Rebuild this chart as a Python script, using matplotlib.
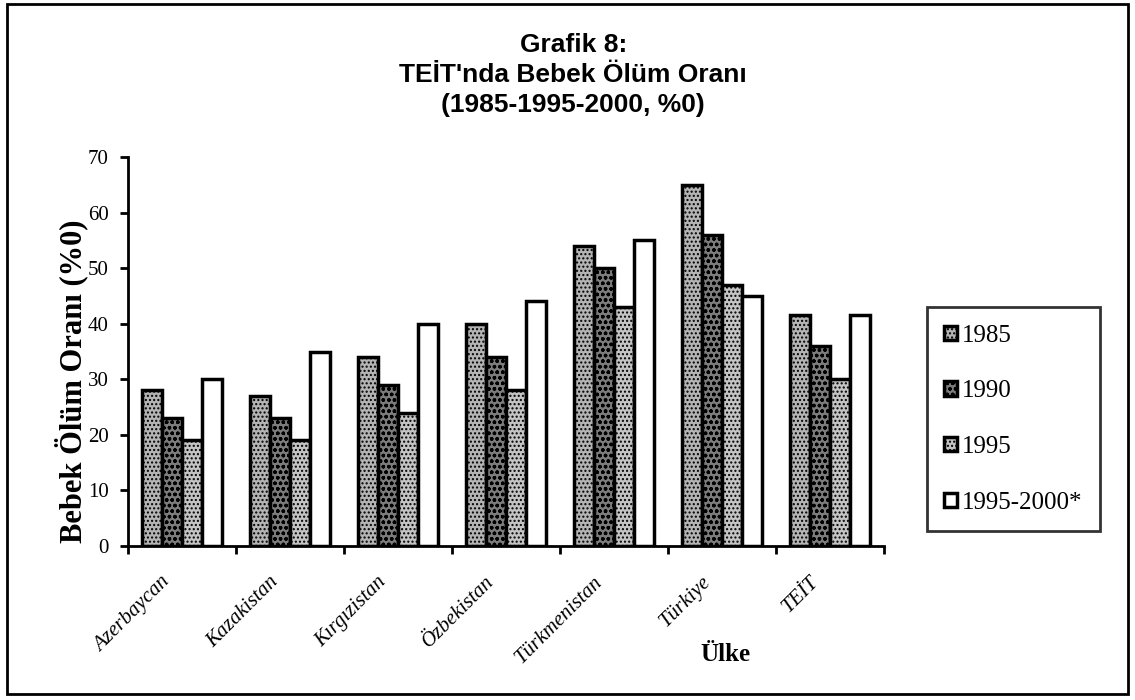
import numpy as np
import matplotlib
matplotlib.use("Agg")
import matplotlib.pyplot as plt
import matplotlib.transforms as mtransforms
from matplotlib.patches import Rectangle

# veriler
ulkeler = ["Azerbaycan", "Kazakistan", "Kırgızistan", "Özbekistan",
           "Türkmenistan", "Türkiye", "TEİT"]
seriler = ["1985", "1990", "1995", "1995-2000*"]
v1985 = [28, 27, 34, 40, 54, 65, 41.5]
v1990 = [23, 23, 29, 34, 50, 56, 36]
v1995 = [19, 19, 24, 28, 43, 47, 30]
v2000 = [30, 35, 40, 44, 55, 45, 41.5]

renkler = ["#b4b4b4", "#7c7c7c", "#c4c4c4", "#ffffff"]
taramalar = ["....", "ooo", "....", None]
plt.rcParams['hatch.color'] = '#555555'

fig = plt.figure(figsize=(11.35, 7), dpi=100)
ax = fig.add_axes([0.1128, 0.22, 0.666, 0.5557])

x = np.arange(len(ulkeler))
w = 0.185
degerler = [v1985, v1990, v1995, v2000]
for i, (ad, vals) in enumerate(zip(seriler, degerler)):
    ax.bar(x + (i - 1.5) * w, vals, width=w, color=renkler[i], edgecolor="black",
           linewidth=2.5, hatch=taramalar[i], label=ad, zorder=2)

ax.set_xlim(-0.5, len(ulkeler) - 0.5)
ax.set_ylim(0, 70)
ax.set_yticks(range(0, 71, 10))
ax.spines["top"].set_visible(False)
ax.spines["right"].set_visible(False)
ax.spines["left"].set_linewidth(2)
ax.spines["bottom"].set_linewidth(2)
ax.tick_params(axis="y", direction="out", length=6, width=2, labelsize=15, pad=8)
for t in ax.get_yticklabels():
    t.set_fontfamily("Liberation Serif")

ax.set_xticks(x)
ax.set_xticklabels(ulkeler, rotation=45, ha="right", rotation_mode="anchor",
                   fontfamily="Liberation Serif", fontstyle="italic", fontsize=15)
ax.tick_params(axis="x", which="major", length=0, pad=12)
ax.set_xticks(np.arange(-0.5, len(ulkeler) + 0.5, 1), minor=True)
ax.tick_params(axis="x", which="minor", direction="out", length=6, width=2)
kaydir = mtransforms.ScaledTranslation(-0.21, -0.10, fig.dpi_scale_trans)
for t in ax.get_xticklabels():
    t.set_transform(t.get_transform() + kaydir)

ax.set_ylabel("Bebek Ölüm Oranı (%0)", fontfamily="Liberation Serif",
              fontweight="bold", fontsize=22)
ax.yaxis.set_label_coords(-0.053, 0.424)
fig.text(0.639, 0.0557, "Ülke", fontfamily="Liberation Serif", fontweight="bold",
         fontsize=18, ha="center")

fig.text(0.505, 0.893, "Grafik 8:\nTEİT'nda Bebek Ölüm Oranı\n(1985-1995-2000, %0)",
         ha="center", va="center", fontfamily="Liberation Sans",
         fontweight="bold", fontsize=19, linespacing=1.3)

leg = fig.legend(loc="upper left", bbox_to_anchor=(0.8167, 0.5614), frameon=True,
                 fancybox=False, edgecolor="black", labelspacing=1.35,
                 handlelength=0.5, handleheight=0.5, handletextpad=0.2,
                 borderpad=0.7, borderaxespad=0,
                 prop={"family": "Liberation Serif", "size": 18})
leg.get_frame().set_linewidth(2)

# dis cerceve
fig.add_artist(Rectangle((0.006, 0.009), 0.988, 0.985, transform=fig.transFigure,
                         fill=False, edgecolor="black", linewidth=2))

fig.savefig("out.png", dpi=100)
